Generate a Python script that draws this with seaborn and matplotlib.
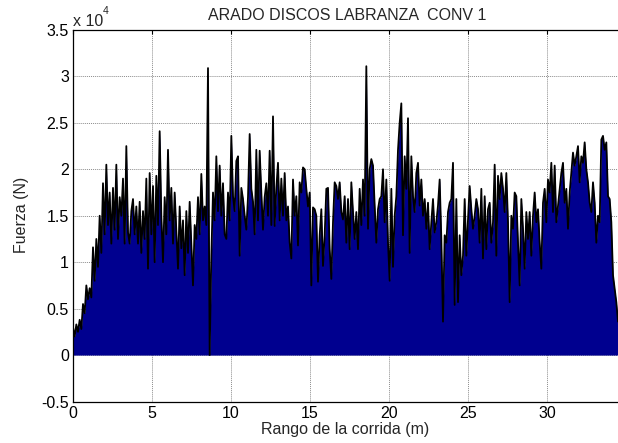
import matplotlib
matplotlib.use("Agg")
import numpy as np
import pandas as pd
import matplotlib.pyplot as plt
import seaborn as sns
from matplotlib.ticker import FuncFormatter

sns.set_style("white")
plt.rcParams["font.family"] = ["Liberation Sans", "DejaVu Sans"]
plt.rcParams["axes.unicode_minus"] = False

# ── data: fuerza in units of 1e4 N, every PASO metres ───────────────────────
PASO = 0.1055

tramo_1 = [0.30, 0.20, 0.33, 0.25, 0.38, 0.28, 0.55, 0.45, 0.75, 0.60,
           0.72, 0.62, 1.16, 0.80, 1.25, 0.95, 1.50, 1.10, 1.85, 1.30,
           2.05, 1.40, 1.75, 1.20, 1.80, 1.35, 2.05, 1.25, 1.70, 1.50,
           1.90, 1.20, 2.25, 1.32, 1.20, 1.55, 1.68, 1.30, 1.60, 1.20,
           1.65, 1.10, 1.55, 1.25, 1.90, 0.93, 1.96, 1.30, 1.82, 1.00,
           1.93, 1.40, 2.41, 1.50]
tramo_2 = [1.00, 1.70, 1.30, 2.21, 1.45, 1.80, 1.20, 1.75, 1.35, 0.93,
           1.60, 1.15, 1.45, 0.86, 1.55, 1.10, 1.65, 1.20, 0.75, 1.40,
           1.25, 1.70, 1.30, 1.95, 1.45, 1.60, 1.40, 3.09, 0.00, 1.07,
           1.75, 1.45, 2.14, 1.55, 2.04, 1.50, 1.85, 1.30, 1.25, 1.75,
           1.45, 2.36, 1.71, 1.55, 2.09, 2.14, 1.07, 1.80, 1.68, 1.50,
           1.35, 1.70, 2.38, 1.79, 1.65]
tramo_3 = [1.30, 2.21, 1.45, 2.20, 1.75, 1.35, 1.70, 1.85, 1.50, 2.20,
           1.40, 2.57, 1.39, 1.80, 2.07, 1.45, 1.90, 1.50, 1.96, 1.45,
           1.60, 1.21, 1.04, 1.89, 1.50, 1.71, 1.18, 1.86, 1.75, 2.02,
           2.00, 1.79, 1.60, 1.75, 0.75, 1.59, 1.57, 1.50, 0.79, 1.29,
           1.57, 0.96, 1.29, 1.79, 1.80, 1.14, 0.82, 1.43, 1.86, 1.82,
           1.68, 1.86, 1.54, 1.46]
tramo_4 = [1.71, 1.21, 1.68, 1.14, 1.86, 1.54, 1.25, 1.54, 1.14, 1.79,
           1.40, 1.89, 1.50, 3.11, 1.36, 2.00, 2.11, 2.04, 1.61, 1.21,
           1.57, 1.68, 1.71, 2.00, 1.43, 1.89, 1.21, 0.80, 1.79, 0.95,
           1.50, 1.71, 2.21, 2.50, 2.71, 1.29, 2.14, 1.79, 2.55, 1.10,
           2.14, 1.71, 1.54, 1.96, 2.07, 1.61, 1.89, 1.50, 1.68, 1.36,
           1.64, 1.14, 1.43, 1.68]
tramo_5 = [1.32, 1.43, 1.61, 1.89, 1.25, 0.36, 1.29, 1.21, 1.54, 1.64,
           1.68, 2.07, 0.54, 1.68, 0.57, 1.29, 0.86, 1.07, 1.68, 1.07,
           1.46, 1.82, 1.57, 1.36, 1.50, 1.68, 1.57, 1.21, 1.79, 1.04,
           1.71, 1.14, 1.57, 1.64, 1.21, 1.43, 2.05, 1.07, 1.93, 1.68,
           1.96, 1.79, 1.54, 1.96, 1.43, 0.57, 1.50, 1.36, 1.75, 1.71,
           1.21, 0.75, 1.68, 1.36]
tramo_6 = [0.93, 1.54, 1.25, 1.54, 1.07, 1.50, 1.75, 1.43, 1.57, 1.21,
           0.93, 1.64, 1.79, 1.43, 1.89, 1.75, 2.07, 1.54, 2.04, 1.43,
           1.61, 1.79, 1.96, 2.07, 1.64, 1.79, 1.36, 1.75, 1.96, 2.18,
           2.04, 2.14, 2.25, 1.86, 2.14, 2.07, 2.29, 2.00, 1.86, 1.64,
           1.54, 1.86, 1.64, 1.21, 1.50, 1.43, 2.32, 2.36, 2.21, 2.29,
           1.71, 1.68, 1.43, 0.86, 0.71, 0.57, 0.36]

X_TICKS = [0, 5, 10, 15, 20, 25, 30]
Y_TICKS = [-0.5, 0, 0.5, 1, 1.5, 2, 2.5, 3, 3.5]

fuerza = np.concatenate([tramo_1, tramo_2, tramo_3, tramo_4, tramo_5, tramo_6])
distancia = np.arange(len(fuerza)) * PASO
df = pd.DataFrame({"distancia": distancia, "fuerza": fuerza})

# ── figure ────────────────────────────────────────────────────────────────────
W, H = 618, 443
FS = 11.5
fig = plt.figure(figsize=(W / 100, H / 100), dpi=100)
ax = fig.add_axes([73 / W, (H - 401.5) / H, 545 / W, 371.5 / H])

ax.fill_between(df["distancia"], 0, df["fuerza"], color="#00008F", lw=0, zorder=2)
sns.lineplot(data=df, x="distancia", y="fuerza", color="black", lw=1.3,
             estimator=None, ax=ax, zorder=3)

ax.set_xlim(0, distancia[-1])
ax.set_ylim(-0.5, 3.5)
ax.set_xticks(X_TICKS)
ax.set_yticks(Y_TICKS)
ax.yaxis.set_major_formatter(FuncFormatter(lambda v, _: f"{v:g}"))
ax.tick_params(direction="in", length=3, width=0.8, top=True, right=False,
               labelsize=FS, pad=3, colors="black")
ax.grid(True, color="#8c8c8c", linestyle=(0, (1, 1)), lw=0.7)
ax.set_axisbelow(True)
for s in ["left", "bottom", "top"]:
    ax.spines[s].set_color("black")
    ax.spines[s].set_linewidth(0.9)
ax.spines["right"].set_visible(False)

ax.set_xlabel("Rango de la corrida (m)", fontsize=FS, labelpad=1)
ax.set_ylabel("")
fig.text(22 / W, 1 - 215 / H, "Fuerza (N)", rotation=90, ha="center",
         va="center", fontsize=FS)
fig.text(347 / W, 1 - 15 / H, "ARADO DISCOS LABRANZA  CONV 1", ha="center",
         va="center", fontsize=FS)
fig.text(73 / W, 1 - 21 / H, "x 10", ha="left", va="center", fontsize=FS)
fig.text(103 / W, 1 - 11 / H, "4", ha="left", va="center", fontsize=FS * 0.65)

fig.savefig("out.png", dpi=100)
